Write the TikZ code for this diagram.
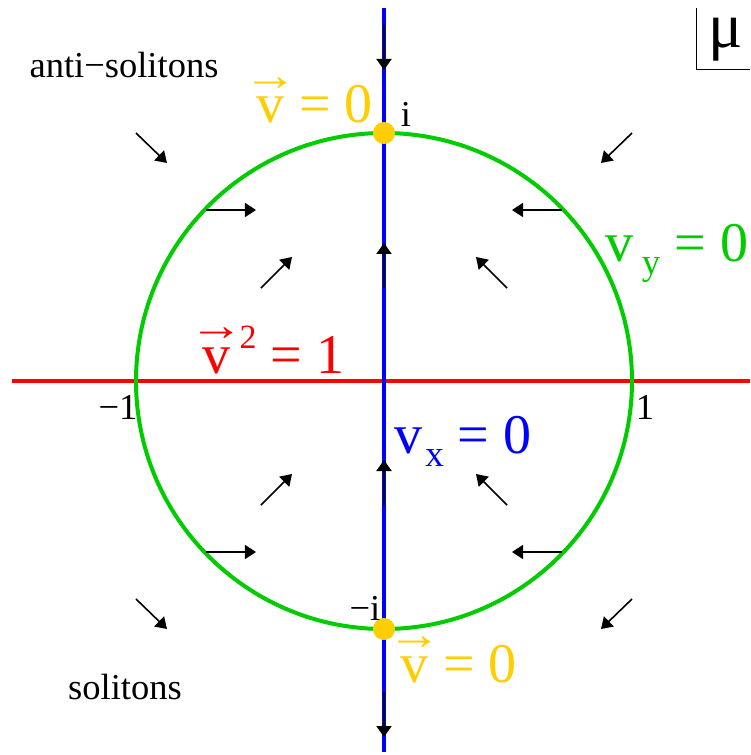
\documentclass[tikz,border=0pt]{standalone}
\usepackage{fontspec}
\setmainfont{Liberation Serif}
\usetikzlibrary{arrows.meta}
\definecolor{vgold}{RGB}{255,206,0}
\definecolor{vgreen}{RGB}{0,204,0}
% velocity with an arrow on top
\newcommand{\vecv}{\leavevmode\vbox{\offinterlineskip\halign{\hfil##\hfil\cr
  \makebox[30pt][c]{\scalebox{1.7}[1.4]{\fontsize{32}{32}\selectfont →}}\cr
  \noalign{\kern7pt}v\cr}}}
\newcommand{\lowidx}[1]{\raisebox{-13pt}{\fontsize{37}{37}\selectfont #1}}

\begin{document}
\begin{tikzpicture}[x=1pt,y=1pt,
  flow/.style={line width=1.6pt,-{Triangle[length=11pt,width=14pt]}},
  axisflow/.style={line width=2pt,-{Triangle[length=11pt,width=15pt]}},
  smalllabel/.style={font=\fontsize{36.5}{40}\selectfont,anchor=base,inner sep=0pt},
  biglabel/.style={font=\fontsize{56}{60}\selectfont,anchor=base,inner sep=0pt}]
\useasboundingbox (-384,-374) rectangle (366,381);
% curves v^2=1, v_y=0, v_x=0
\draw[red,line width=4pt] (-372,0) -- (366,0);
\draw[vgreen,line width=4pt] (0,0) circle (248);
\draw[blue,line width=4.5pt] (0,373) -- (0,-371);
% flow on the axis
\draw[axisflow] (0,356) -- (0,311);
\draw[axisflow] (0,93) -- (0,138);
\draw[axisflow] (0,-124) -- (0,-79);
\draw[axisflow] (0,-311) -- (0,-356);
% flow in the plane
\foreach \tx/\ty/\hx/\hy in {-248/248/-217/218, -178/171/-128/171, -123/93/-92/124,
    248/248/217/218, 178/171/128/171, 123/93/92/124,
    -248/-218/-217/-248, -178/-171/-128/-171, -123/-124/-92/-93,
    248/-218/217/-248, 178/-171/128/-171, 123/-124/92/-93}
  \draw[flow] (\tx,\ty) -- (\hx,\hy);
% fixed points
\fill[vgold] (0,248) circle (11);
\fill[vgold] (0,-248) circle (11);
% labels
\node[smalllabel] (anti) at (-260,303) {anti−solitons};
\node[smalllabel] (sol) at (-259,-318) {solitons};
\node[smalllabel] (ptop) at (22,254) {i};
\node[smalllabel] (pbot) at (-19,-239) {−i};
\node[smalllabel] (pleft) at (-266,-38) {−1};
\node[smalllabel] (pright) at (261,-38) {1};
\node[biglabel,text=vgold] (vtop) at (-70,258) {\vecv{} = 0};
\node[biglabel,text=vgold] (vbot) at (74,-301) {\vecv{} = 0};
\node[biglabel,text=red] (vsq) at (-111,8)
  {\vecv\kern8pt\raisebox{25pt}{\fontsize{34}{34}\selectfont 2} = 1};
\node[biglabel,text=blue] (vx) at (79,-72) {v\kern3pt\lowidx{x} = 0};
\node[biglabel,text=vgreen] (vy) at (293,119) {v\kern8pt\lowidx{y} = 0};
% plane label
\draw[line width=1pt] (312,373) -- (312,311) -- (366,311);
\node[biglabel,font=\fontsize{64}{68}\selectfont] (mu) at (342,333) {μ};
\end{tikzpicture}
\end{document}
